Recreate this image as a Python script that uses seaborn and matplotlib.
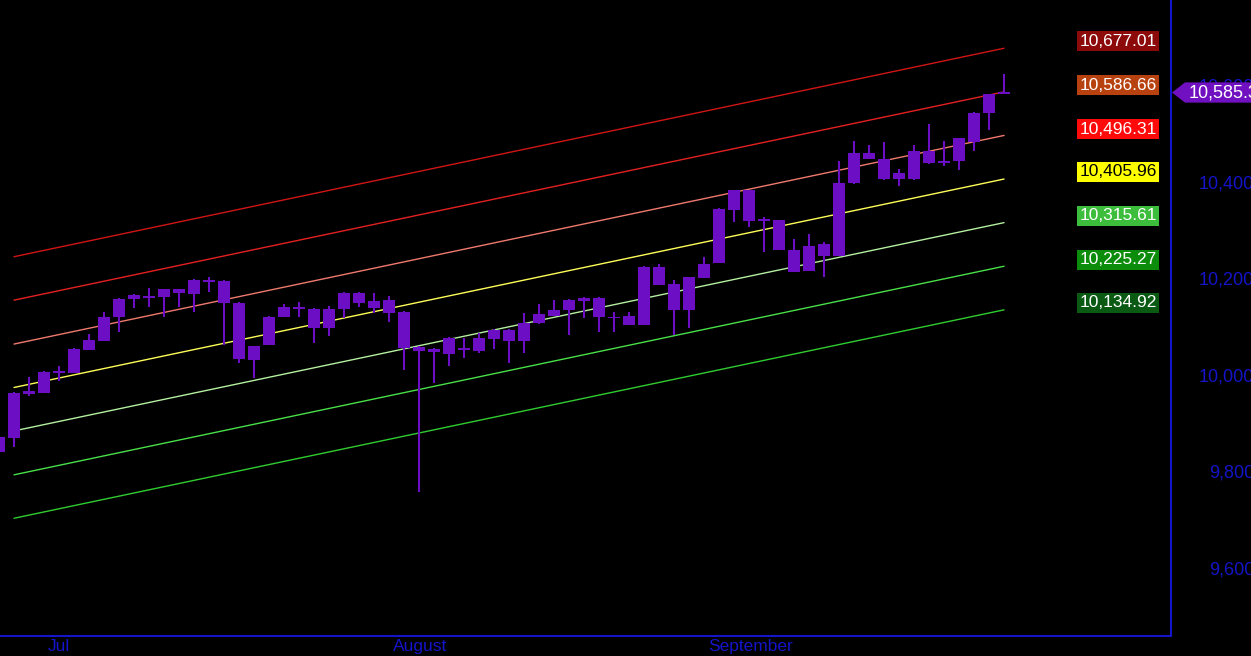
import pandas as pd
import seaborn as sns
import matplotlib.pyplot as plt
from matplotlib.patches import Polygon
from matplotlib.transforms import blended_transform_factory, ScaledTranslation

# daily bars, index -1 is the bar cut off at the left edge
bar_idx = list(range(-1, 67))
opens = [9872, 9870, 9961, 9963, 10007, 10005, 10052, 10071, 10121, 10158,
         10164, 10162, 10178, 10168, 10195, 10195, 10150, 10030, 10063, 10121,
         10141, 10137, 10098, 10137, 10170, 10154, 10156, 10131, 10058, 10048,
         10044, 10056, 10050, 10075, 10094, 10071, 10108, 10123, 10135, 10154,
         10160, 10121, 10123, 10104, 10224, 10189, 10135, 10201, 10232, 10342,
         10383, 10319, 10321, 10259, 10216, 10272, 10247, 10398, 10460, 10448,
         10406, 10406, 10464, 10439, 10443, 10483, 10543, 10583]
highs = [9885, 9965, 9996, 10008, 10019, 10055, 10085, 10131, 10159, 10167,
         10181, 10179, 10179, 10198, 10203, 10196, 10151, 10061, 10122, 10147,
         10152, 10138, 10143, 10171, 10171, 10170, 10164, 10132, 10059, 10055,
         10078, 10077, 10087, 10095, 10095, 10129, 10147, 10156, 10157, 10161,
         10161, 10131, 10131, 10225, 10230, 10197, 10204, 10245, 10345, 10384,
         10384, 10328, 10322, 10282, 10292, 10276, 10443, 10485, 10477, 10483,
         10427, 10477, 10520, 10485, 10492, 10544, 10583, 10624]
lows = [9833, 9851, 9957, 9962, 9988, 10003, 10051, 10070, 10090, 10139,
        10141, 10121, 10141, 10131, 10172, 10063, 10025, 9994, 10062, 10120,
        10121, 10067, 10081, 10118, 10141, 10129, 10110, 10011, 9758, 9984,
        10019, 10036, 10046, 10054, 10025, 10046, 10106, 10122, 10083, 10118,
        10090, 10090, 10103, 10103, 10186, 10083, 10098, 10200, 10231, 10317,
        10307, 10255, 10258, 10213, 10215, 10203, 10246, 10395, 10447, 10405,
        10392, 10405, 10438, 10433, 10425, 10464, 10508, 10582]
closes = [9840, 9963, 9967, 10007, 10005, 10054, 10073, 10121, 10158, 10166,
          10160, 10178, 10170, 10197, 10193, 10150, 10034, 10060, 10121, 10141,
          10137, 10098, 10137, 10170, 10150, 10139, 10129, 10056, 10050, 10054,
          10077, 10052, 10077, 10094, 10071, 10108, 10127, 10135, 10156, 10160,
          10121, 10117, 10104, 10224, 10187, 10135, 10203, 10230, 10344, 10383,
          10319, 10323, 10259, 10214, 10268, 10247, 10398, 10460, 10448, 10406,
          10419, 10464, 10439, 10443, 10491, 10543, 10582, 10585.3]
last_price = 10585.3

# regression channel: value at first bar and last bar of each line
chan_x = [0, 66]
chan_start = [10245, 10155, 10064, 9974, 9884, 9793, 9703]
chan_end = [10677.01, 10586.66, 10496.31, 10405.96, 10315.61, 10225.27, 10134.92]
chan_line_colors = ['#d01515', '#e52020', '#f07a6e', '#ffff5a', '#b4f0a0', '#48e048', '#30cc30']
chan_box_colors = ['#8c0a0a', '#b8420f', '#ff0a0a', '#ffff00', '#3cbe3c', '#0b8c0b', '#0a5a14']

month_ticks = [2, 25, 46]
month_labels = ['Jul', 'August', 'September']
price_ticks = [9600, 9800, 10000, 10200, 10400, 10600]

candle_color = '#6c0fc4'
axis_blue = '#1414c8'

sns.set_style("dark", {"axes.facecolor": "black", "figure.facecolor": "black"})
plt.rcParams['font.family'] = ['Liberation Sans', 'DejaVu Sans']

fig = plt.figure(figsize=(12.51, 6.56), dpi=100, facecolor='black')
ax = fig.add_axes([0, 20 / 656, 1171 / 1251, 636 / 656])
ax.set_facecolor('black')

# channel lines
rows = []
for i in range(len(chan_start)):
    rows.append({'x': chan_x[0], 'y': chan_start[i], 'line': i})
    rows.append({'x': chan_x[1], 'y': chan_end[i], 'line': i})
chan = pd.DataFrame(rows)
sns.lineplot(data=chan, x='x', y='y', hue='line', palette=chan_line_colors,
             legend=False, linewidth=1.0, ax=ax, zorder=2)

# candles
ax.vlines(bar_idx, lows, highs, color=candle_color, linewidth=1.5, zorder=3)
bottoms = [min(o, c) for o, c in zip(opens, closes)]
heights = [max(abs(c - o), 3) for o, c in zip(opens, closes)]
ax.bar(bar_idx, heights, bottom=bottoms, width=0.8, color=candle_color,
       linewidth=0, zorder=4)

ax.set_xlim(-0.933, 77.13)
ax.set_ylim(9459, 10777)
ax.grid(False)

for s in ['left', 'top']:
    ax.spines[s].set_visible(False)
for s in ['bottom', 'right']:
    ax.spines[s].set_color(axis_blue)
    ax.spines[s].set_linewidth(1.5)

ax.set_xticks(month_ticks)
ax.set_xticklabels(month_labels, ha='left')
ax.tick_params(axis='x', direction='inout', length=8, width=1, color=axis_blue,
               labelcolor=axis_blue, labelsize=12.5, pad=-2)
shift = ScaledTranslation(3 / 72, 0, fig.dpi_scale_trans)
for lbl in ax.get_xticklabels():
    lbl.set_transform(lbl.get_transform() + shift)
ax.set_xlabel('')
ax.set_ylabel('')

ax.yaxis.tick_right()
ax.set_yticks(price_ticks)
ax.set_yticklabels([f"{v:,}" for v in price_ticks])
ax.tick_params(axis='y', length=0, pad=60, labelcolor=axis_blue, labelsize=13)
for t in ax.get_yticklabels():
    t.set_horizontalalignment('right')

# channel value boxes
label_y = [41, 85, 129, 172, 216, 260, 303]
for i, v in enumerate(chan_end):
    txt_color = 'black' if chan_box_colors[i] == '#ffff00' else 'white'
    ax.text(1118 / 1171, 1 - label_y[i] / 636, f"{v:,.2f}", transform=ax.transAxes,
            ha='center', va='center', fontsize=12.5, color=txt_color,
            bbox=dict(boxstyle='square,pad=0.14', fc=chan_box_colors[i], ec='none'))

# last price tag
tr = blended_transform_factory(ax.transAxes, ax.transData)
h = 21
tag = Polygon([(1172 / 1171, last_price), (1185 / 1171, last_price + h),
               (1.1, last_price + h), (1.1, last_price - h),
               (1185 / 1171, last_price - h)],
              closed=True, transform=tr, clip_on=False, fc='#7010c0', ec='none', zorder=6)
ax.add_patch(tag)
ax.text(1189 / 1171, last_price, f"{last_price:,.1f}", transform=tr, ha='left',
        va='center', color='white', fontsize=13, zorder=7, clip_on=False)

fig.savefig('out.png', dpi=100, facecolor='black')
